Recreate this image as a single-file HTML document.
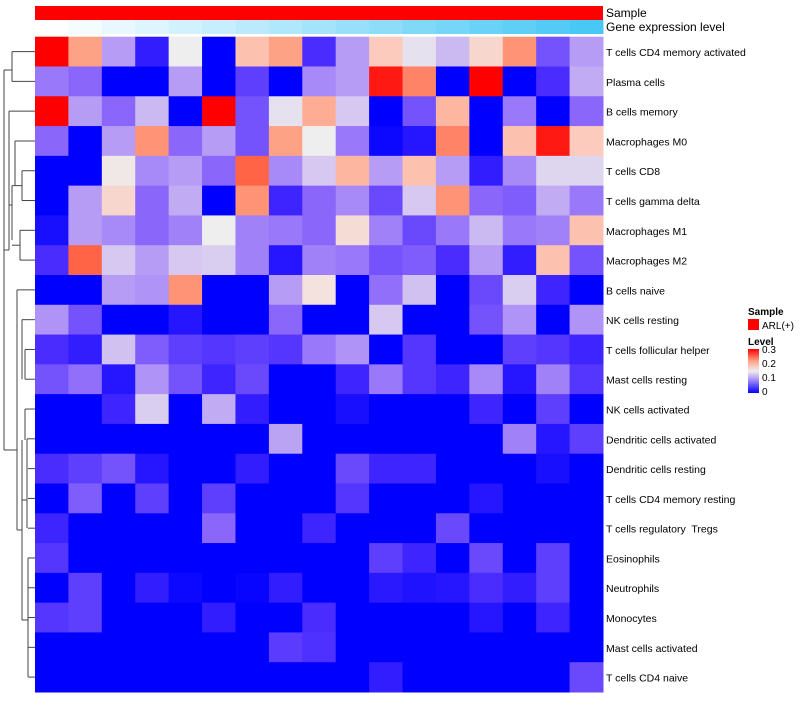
<!DOCTYPE html>
<html><head><meta charset="utf-8"><style>
body{margin:0;background:#fff;font-family:"Liberation Sans",sans-serif;}
svg text{font-family:"Liberation Sans",sans-serif;fill:#000;}
#labels text{white-space:pre;}
</style></head><body>
<svg id="chart" width="800" height="700" xmlns="http://www.w3.org/2000/svg">
<g id="dendro" stroke="#444" fill="none" stroke-width="1"></g>
<g id="cells"></g>
<g id="annot"></g>
<g id="labels"></g>
<g id="legend">
<text x="748" y="315" font-size="10" font-weight="bold">Sample</text>
<rect x="748" y="319" width="11" height="11" fill="#ff0000"/>
<text x="762" y="329" font-size="10">ARL(+)</text>
<text x="748" y="345" font-size="10" font-weight="bold">Level</text>
<defs><linearGradient id="lg" x1="0" y1="1" x2="0" y2="0">
<stop offset="0" stop-color="#0000ff"/><stop offset="0.33" stop-color="#b69cf5"/><stop offset="0.5" stop-color="#eeeeee"/><stop offset="0.73" stop-color="#fea286"/><stop offset="1" stop-color="#ff0000"/></linearGradient></defs>
<rect x="748" y="349" width="11" height="44" fill="url(#lg)"/>
<text x="762" y="353" font-size="10">0.3</text>
<text x="762" y="367" font-size="10">0.2</text>
<text x="762" y="381" font-size="10">0.1</text>
<text x="762" y="395" font-size="10">0</text>
</g>
</svg>
<script>
const rowNames=["T cells CD4 memory activated","Plasma cells","B cells memory","Macrophages M0","T cells CD8","T cells gamma delta","Macrophages M1","Macrophages M2","B cells naive","NK cells resting","T cells follicular helper","Mast cells resting","NK cells activated","Dendritic cells activated","Dendritic cells resting","T cells CD4 memory resting","T cells regulatory  Tregs","Eosinophils","Neutrophils","Monocytes","Mast cells activated","T cells CD4 naive"];
const r1=[.3,.22,.09,.02,.15,0,.19,.22,.03,.09,.18,.14,.11,.17,.23,.05,.09];
const r2=[.07,.06,0,0,.09,0,.04,0,.08,.09,.29,.24,0,.3,0,.03,.1];
const r3=[.3,.09,.06,.11,0,.3,.05,.14,.21,.12,0,.05,.2,0,.07,0,.06];
const r4=[.06,0,.09,.23,.06,.09,.05,.22,.15,.07,.005,.015,.24,0,.19,.29,.18];
const r5=[0,0,.155,.08,.09,.06,.26,.08,.12,.2,.09,.19,.09,.02,.08,.13,.13];
const r6=[0,.09,.17,.06,.1,0,.23,.025,.06,.08,.045,.12,.23,.06,.055,.1,.07];
const r7=[.01,.09,.08,.06,.075,.15,.075,.07,.06,.165,.075,.045,.07,.11,.07,.075,.19];
const r8=[.03,.26,.12,.09,.12,.125,.075,.015,.075,.07,.05,.055,.03,.09,.02,.19,.05];
const r9=[0,0,.09,.085,.23,0,0,.09,.16,0,.065,.115,0,.045,.125,.025,0];
const r10=[.085,.05,0,0,.015,0,0,.06,0,0,.12,0,0,.05,.085,0,.085];
const r11=[.03,.02,.115,.055,.04,.035,.04,.035,.07,.085,0,.035,0,0,.04,.035,.025];
const r12=[.05,.065,.015,.085,.05,.025,.045,0,0,.025,.07,.035,.025,.08,.015,.075,.035];
const r13=[0,0,.025,.125,0,.1,.02,0,0,.01,0,0,0,.025,0,.04,0];
const r14=[0,0,0,0,0,0,0,.095,0,0,0,0,0,0,.075,.015,.04];
const r15=[.03,.04,.05,.015,0,0,.02,0,0,.045,.025,.025,0,0,0,.01,0];
const r16=[0,.055,0,.04,0,.04,0,0,0,.035,0,0,0,.015,0,0,0];
const r17=[.025,0,0,0,0,.06,0,0,.025,0,0,0,.045,0,0,0,0];
const r18=[.035,0,0,0,0,0,0,0,0,0,.04,.025,0,.045,0,.04,0];
const r19=[0,.04,0,.02,.005,0,.003,.02,0,0,.017,.012,.015,.03,.02,.04,0];
const r20=[.035,.04,0,0,0,.02,0,0,.03,0,0,0,0,.015,0,.025,0];
const r21=[0,0,0,0,0,0,0,.038,.032,0,0,0,0,0,0,0,0];
const r22=[0,0,0,0,0,0,0,0,0,0,.02,0,0,0,0,0,.045];
const values=[r1,r2,r3,r4,r5,r6,r7,r8,r9,r10,r11,r12,r13,r14,r15,r16,r17,r18,r19,r20,r21,r22];
const geneLevel=[0,1,2,3,4,5,6,7,8,9,10,11,12,13,14,15,16];

const NS="http://www.w3.org/2000/svg";
const X0=35,X1=603,Y0=36.7,Y1=692;
const nC=r1.length,nR=values.length;
const cw=(X1-X0)/nC,rh=(Y1-Y0)/nR;
const xPos=c=>X0+c*cw, yPos=r=>Y0+r*rh;
const stops=[[0,[0,0,255]],[.03,[74,44,255]],[.06,[138,102,251]],[.09,[182,156,245]],[.12,[214,200,240]],[.15,[238,238,238]],[.18,[252,203,189]],[.22,[254,162,134]],[.26,[255,100,70]],[.3,[255,0,0]]];
function col(v){v=Math.max(0,Math.min(.3,v));for(let i=1;i<stops.length;i++){if(v<=stops[i][0]){const [a,ca]=stops[i-1],[b,cb]=stops[i];const t=(v-a)/(b-a);return `rgb(${ca.map((x,k)=>Math.round(x+(cb[k]-x)*t)).join(',')})`;}}return "rgb(255,0,0)";}
function mk(tag,attrs,parent){const e=document.createElementNS(NS,tag);for(const k in attrs)e.setAttribute(k,attrs[k]);parent.appendChild(e);return e;}
const cells=document.getElementById('cells');
values.forEach((row,r)=>row.forEach((v,c)=>{
  const e=mk('rect',{x:xPos(c),y:yPos(r),width:cw+0.5,height:rh+0.5,fill:col(v)},cells);
  
  
}));
const annot=document.getElementById('annot');
const sb=mk('rect',{x:X0,y:6,width:X1-X0,height:14,fill:'#ff0000'},annot);


const gmax=Math.max(...geneLevel);
geneLevel.forEach((g,c)=>{const t=g/gmax;
  const e=mk('rect',{x:xPos(c),y:20,width:cw+0.5,height:14,fill:`rgb(${Math.round(255-(255-72)*t)},${Math.round(255-(255-200)*t)},${Math.round(255-(255-245)*t)})`},annot);
  
  
});
let t1=mk('text',{x:606,y:17,'font-size':12},annot);t1.textContent='Sample';


let t2=mk('text',{x:606,y:31,'font-size':12},annot);t2.textContent='Gene expression level';


const labels=document.getElementById('labels');
rowNames.forEach((n,r)=>{const e=mk('text',{x:606,y:yPos(r)+rh/2+4.5,'font-size':10.5,'xml:space':'preserve'},labels);e.textContent=n;
  
  });
const d=document.getElementById('dendro');
const ym=r=>yPos(r)+rh/2;
const segs=[[35,ym(0),12,ym(0)],[35,ym(1),12,ym(1)],[12,ym(0),12,ym(1)],
[35,ym(2),9,ym(2)],[35,ym(3),15,ym(3)],[35,ym(4),22,ym(4)],[35,ym(5),22,ym(5)],[22,ym(4),22,ym(5)],[22,(ym(4)+ym(5))/2,12,(ym(4)+ym(5))/2],
[35,ym(6),20,ym(6)],[35,ym(7),20,ym(7)],[20,ym(6),20,ym(7)],[20,(ym(6)+ym(7))/2,12,(ym(6)+ym(7))/2],
[12,(ym(4)+ym(5))/2,12,240],[15,ym(3),15,185],[12,205,9,205],[9,ym(2),9,250],[9,250,4,250],
[35,ym(8),17,ym(8)],[17,ym(8),17,400],[35,ym(9),22,ym(9)],[22,ym(9),22,ym(11)],[35,ym(10),25,ym(10)],[35,ym(11),25,ym(11)],[25,ym(10),25,ym(11)],
[35,ym(12),25,ym(12)],[25,ym(12),25,440],[35,ym(13),27,ym(13)],[27,ym(13),27,ym(16)],[35,ym(14),28,ym(14)],[35,ym(15),28,ym(15)],[35,ym(16),28,ym(16)],
[35,ym(17),28,ym(17)],[28,ym(17),28,ym(21)],[35,ym(18),28,ym(18)],[35,ym(19),28,ym(19)],[35,ym(20),28,ym(20)],[35,ym(21),28,ym(21)],
[27,500,22,500],[22,440,22,620],[28,620,22,620],[22,530,17,530],[17,400,17,530],[17,450,4,450],[4,70,4,450],[4,70,12,70]];
segs.forEach(s=>{const e=mk('line',{x1:s[0],y1:s[1],x2:s[2],y2:s[3]},d);
  
  });
</script>
</body></html>
